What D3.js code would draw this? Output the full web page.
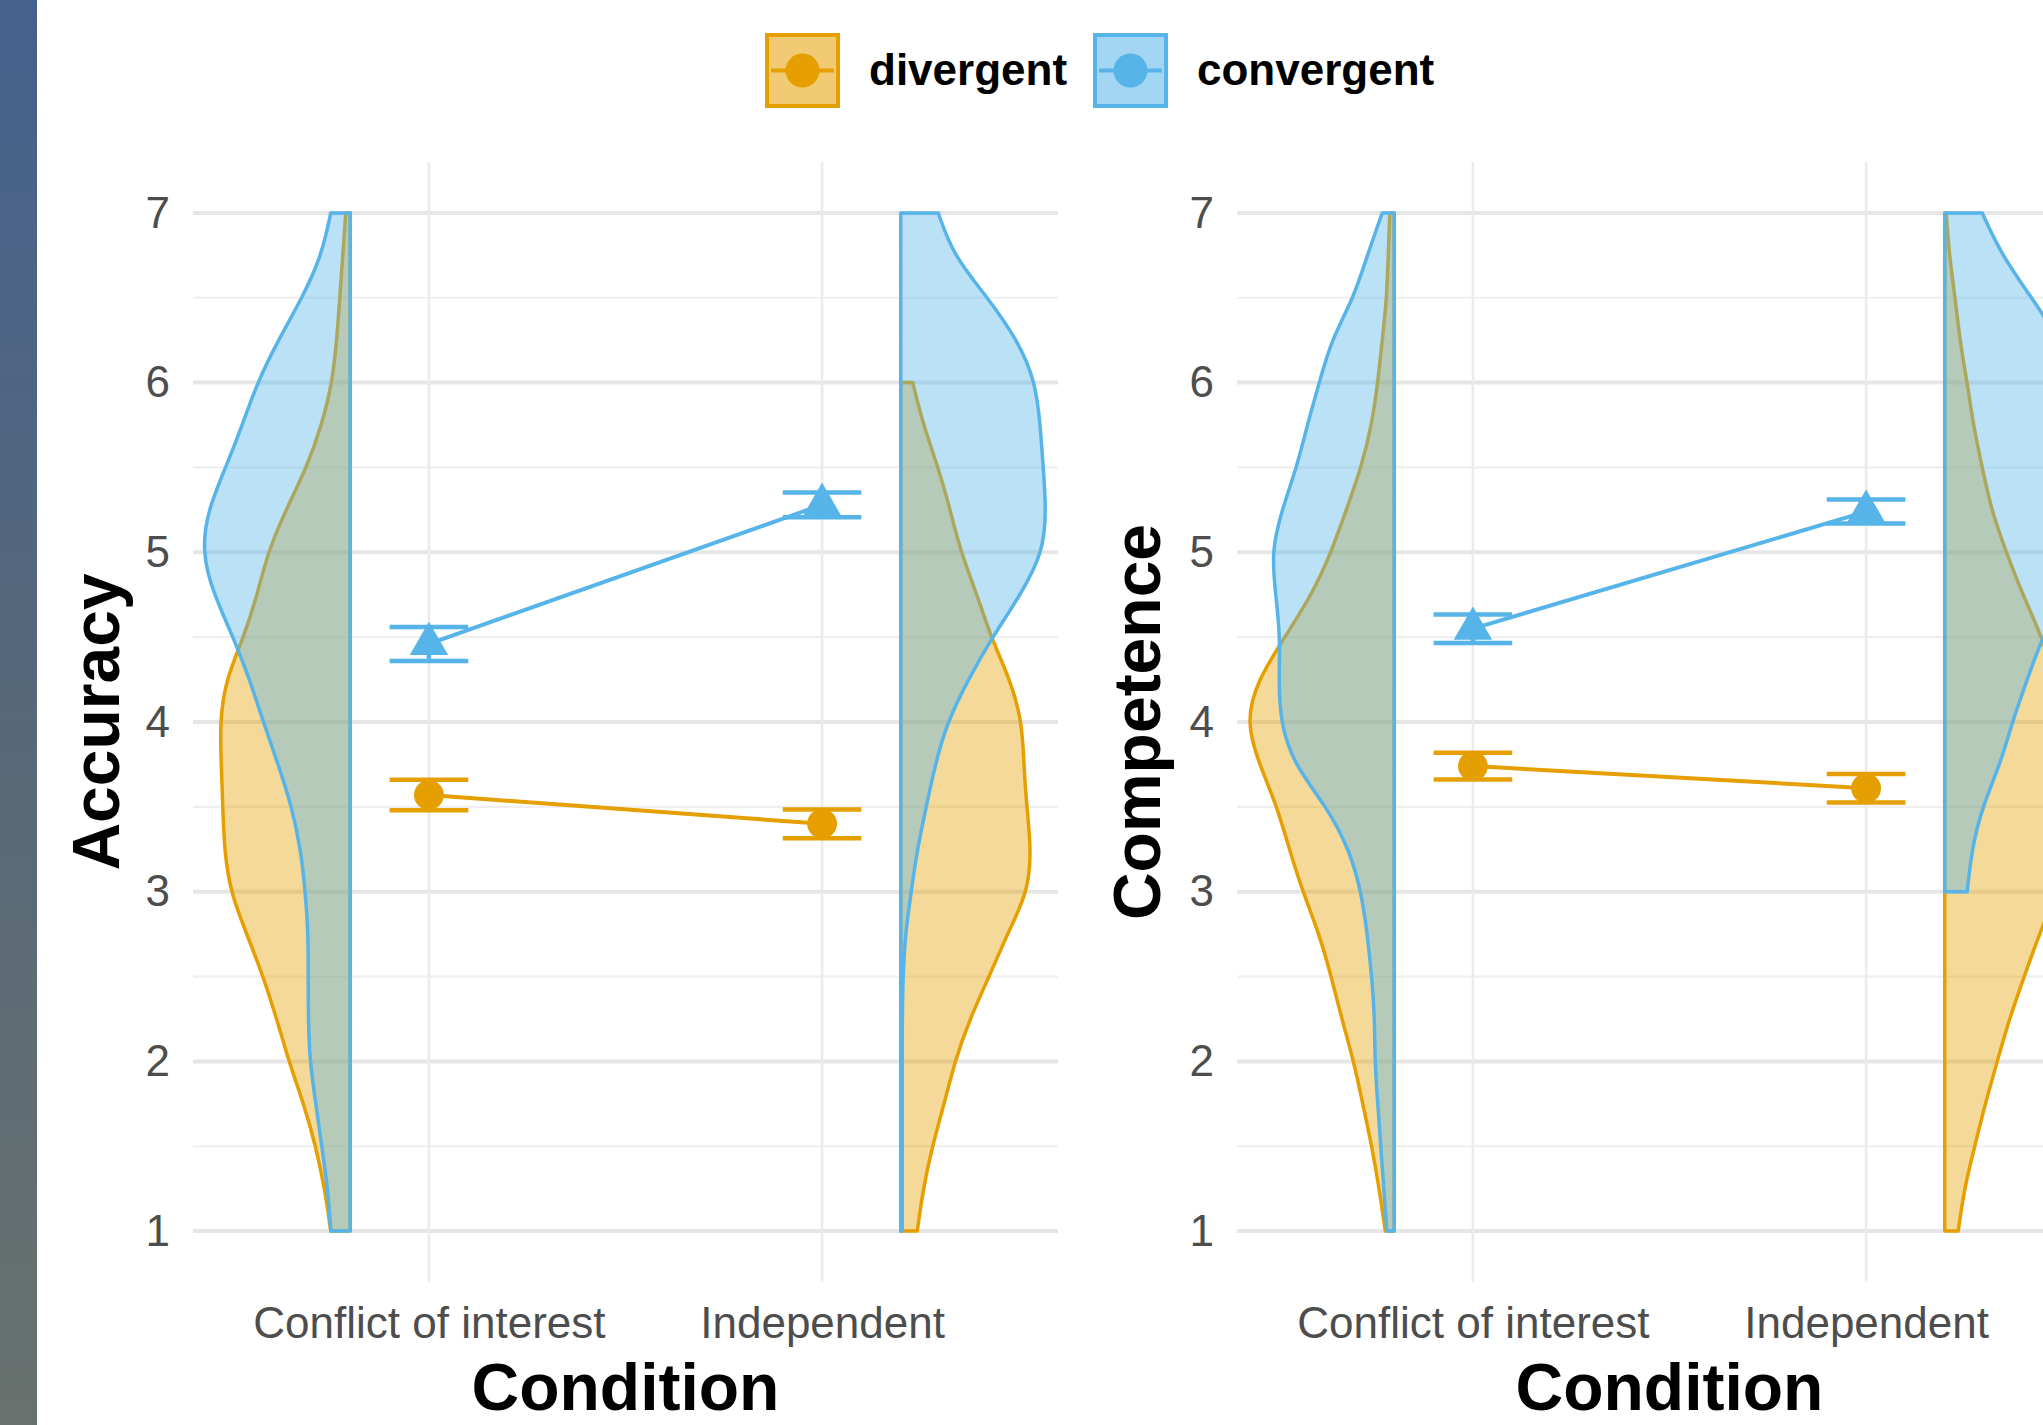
<!DOCTYPE html>
<html>
<head>
<meta charset="utf-8">
<script src="https://cdn.jsdelivr.net/npm/d3@7"></script>
<style>
  body { margin: 0; background: #fff; }
  svg { display: block; font-family: "Liberation Sans", Arial, Helvetica, sans-serif; }
</style>
</head>
<body>
<script>
// categories and groups
const conditions = ["Conflict of interest", "Independent"];
const groups = ["divergent", "convergent"];
const groupColors = ["#E69F00", "#56B4E9"];
const yTicks = [1, 2, 3, 4, 5, 6, 7];
const yMinor = [1.5, 2.5, 3.5, 4.5, 5.5, 6.5];

// means and standard errors (per condition)
const accDivMean = [3.57, 3.40];
const accDivSE = [0.090, 0.085];
const accConvMean = [4.46, 5.28];
const accConvSE = [0.100, 0.073];
const compDivMean = [3.74, 3.61];
const compDivSE = [0.079, 0.084];
const compConvMean = [4.55, 5.24];
const compConvSE = [0.084, 0.071];

// rating levels at which the violin densities were read (top to bottom)
const levels = [7, 6.75, 6.5, 6.25, 6, 5.75, 5.5, 5.25, 5, 4.75, 4.5, 4.25, 4,
                3.75, 3.5, 3.25, 3, 2.75, 2.5, 2.25, 2, 1.75, 1.5, 1.25, 1];

// relative densities, null = outside the data range
const accDivCoi = [0.03,0.05,0.07,0.09,0.12,0.19,0.29,0.43,0.55,0.62,0.71,0.83,0.87,0.86,0.85,0.84,0.80,0.69,0.58,0.49,0.41,0.31,0.23,0.17,0.13];
const accConvCoi = [0.13,0.19,0.32,0.48,0.62,0.72,0.83,0.95,0.99,0.91,0.78,0.67,0.58,0.48,0.39,0.33,0.30,0.28,0.28,0.28,0.27,0.23,0.19,0.15,0.13];
const accDivInd = [null,null,null,null,0.08,0.15,0.25,0.33,0.40,0.51,0.60,0.73,0.81,0.82,0.84,0.87,0.85,0.71,0.59,0.46,0.36,0.29,0.21,0.15,0.11];
const accConvInd = [0.25,0.35,0.58,0.78,0.90,0.93,0.95,0.97,0.95,0.80,0.61,0.45,0.31,0.23,0.17,0.11,0.07,0.03,0.015,0.01,0.01,0.01,0.01,0.01,0.01];
const compDivCoi = [0.03,0.04,0.05,0.08,0.11,0.15,0.22,0.32,0.42,0.55,0.73,0.91,0.99,0.90,0.78,0.70,0.61,0.50,0.42,0.35,0.27,0.21,0.15,0.10,0.06];
const compConvCoi = [0.08,0.18,0.27,0.42,0.50,0.58,0.65,0.75,0.82,0.79,0.76,0.77,0.76,0.67,0.45,0.30,0.22,0.18,0.15,0.13,0.13,0.11,0.09,0.07,0.05];
const compDivInd = [0.01,0.03,0.07,0.10,0.15,0.19,0.25,0.31,0.41,0.52,0.65,0.73,0.81,0.85,0.87,0.83,0.75,0.63,0.53,0.43,0.35,0.27,0.20,0.13,0.09];
const compConvInd = [0.25,0.38,0.58,0.77,0.87,0.92,0.95,0.96,0.93,0.80,0.65,0.55,0.45,0.37,0.25,0.18,0.15,null,null,null,null,null,null,null,null];

const width = 2043;
const height = 1425;

const svg = d3.select("body").append("svg")
    .attr("width", width)
    .attr("height", height);

// dark strip on the left edge
const grad = svg.append("defs").append("linearGradient")
    .attr("id", "strip")
    .attr("x1", 0).attr("y1", 0).attr("x2", 0).attr("y2", 1);
grad.append("stop").attr("offset", "0%").attr("stop-color", "#45618d");
grad.append("stop").attr("offset", "50%").attr("stop-color", "#566879");
grad.append("stop").attr("offset", "100%").attr("stop-color", "#68716d");
svg.append("rect")
    .attr("x", 0).attr("y", 0)
    .attr("width", 37).attr("height", height)
    .attr("fill", "url(#strip)");

const panels = [
    { title: "Accuracy", left: 193, titleX: 119,
      means: [accDivMean, accConvMean], ses: [accDivSE, accConvSE],
      dens: [[accDivCoi, accDivInd], [accConvCoi, accConvInd]] },
    { title: "Competence", left: 1237, titleX: 1160,
      means: [compDivMean, compConvMean], ses: [compDivSE, compConvSE],
      dens: [[compDivCoi, compDivInd], [compConvCoi, compConvInd]] }
];

const panelWidth = 865;
const violinScale = 0.3815;   // relative density -> x units
const violinPos = [0.8, 2.2];
const violinSide = [-1, 1];

const y = d3.scaleLinear().domain([0.7, 7.3]).range([1282, 162]);

function drawPanel(p) {
    const x = d3.scaleLinear().domain([0.4, 2.6]).range([p.left, p.left + panelWidth]);
    const g = svg.append("g");

    // grid
    g.append("g").selectAll("line")
        .data(yMinor)
        .join("line")
        .attr("x1", x(0.4)).attr("x2", x(2.6))
        .attr("y1", d => y(d)).attr("y2", d => y(d))
        .attr("stroke", "#efefef")
        .attr("stroke-width", 2.2);

    g.append("g").selectAll("line")
        .data(yTicks)
        .join("line")
        .attr("x1", x(0.4)).attr("x2", x(2.6))
        .attr("y1", d => y(d)).attr("y2", d => y(d))
        .attr("stroke", "#e6e6e6")
        .attr("stroke-width", 4);

    g.append("g").selectAll("line")
        .data([1, 2])
        .join("line")
        .attr("x1", d => x(d)).attr("x2", d => x(d))
        .attr("y1", y(7.3)).attr("y2", y(0.7))
        .attr("stroke", "#ebebeb")
        .attr("stroke-width", 2.5);

    // half violins, divergent first so convergent sits on top
    groups.forEach((grp, gi) => {
        conditions.forEach((cond, ci) => {
            const pts = levels
                .map((v, i) => ({ v: v, d: p.dens[gi][ci][i] }))
                .filter(d => d.d !== null);
            const pos = violinPos[ci];
            const side = violinSide[ci];
            const area = d3.area()
                .y(d => y(d.v))
                .x0(x(pos))
                .x1(d => x(pos + side * d.d * violinScale))
                .curve(d3.curveBasis);
            g.append("path")
                .datum(pts)
                .attr("d", area)
                .attr("fill", groupColors[gi])
                .attr("fill-opacity", 0.4)
                .attr("stroke", groupColors[gi])
                .attr("stroke-width", 3.5)
                .attr("stroke-linejoin", "round");
        });
    });

    // mean lines, error bars and points
    groups.forEach((grp, gi) => {
        const means = p.means[gi];
        const ses = p.ses[gi];
        const pts = means.map((m, i) => ({ c: i + 1, m: m, se: ses[i] }));

        g.append("path")
            .datum(pts)
            .attr("d", d3.line().x(d => x(d.c)).y(d => y(d.m)))
            .attr("fill", "none")
            .attr("stroke", groupColors[gi])
            .attr("stroke-width", 4);

        const eb = g.append("g").selectAll("g")
            .data(pts)
            .join("g")
            .attr("stroke", groupColors[gi])
            .attr("stroke-width", 4.5);
        eb.append("line")
            .attr("x1", d => x(d.c)).attr("x2", d => x(d.c))
            .attr("y1", d => y(d.m - d.se)).attr("y2", d => y(d.m + d.se));
        eb.append("line")
            .attr("x1", d => x(d.c - 0.1)).attr("x2", d => x(d.c + 0.1))
            .attr("y1", d => y(d.m - d.se)).attr("y2", d => y(d.m - d.se));
        eb.append("line")
            .attr("x1", d => x(d.c - 0.1)).attr("x2", d => x(d.c + 0.1))
            .attr("y1", d => y(d.m + d.se)).attr("y2", d => y(d.m + d.se));

        const sym = d3.symbol()
            .type(gi === 0 ? d3.symbolCircle : d3.symbolTriangle)
            .size(gi === 0 ? 700 : 640);
        g.append("g").selectAll("path")
            .data(pts)
            .join("path")
            .attr("transform", d => `translate(${x(d.c)},${y(d.m)})`)
            .attr("d", sym)
            .attr("fill", groupColors[gi]);
    });

    // axes
    const yAxis = g.append("g")
        .attr("transform", `translate(${p.left},0)`)
        .call(d3.axisLeft(y).tickValues(yTicks).tickFormat(d3.format("d")).tickSize(0).tickPadding(23));
    yAxis.select(".domain").remove();
    yAxis.selectAll("text")
        .attr("font-size", 44)
        .attr("font-family", "'Liberation Sans', Arial, sans-serif")
        .attr("fill", "#4d4d4d");

    const xAxis = g.append("g")
        .attr("transform", `translate(0,${y(0.7)})`)
        .call(d3.axisBottom(x).tickValues([1, 2]).tickFormat(d => conditions[d - 1]).tickSize(0).tickPadding(25));
    xAxis.select(".domain").remove();
    xAxis.selectAll("text")
        .attr("font-size", 44)
        .attr("font-family", "'Liberation Sans', Arial, sans-serif")
        .attr("fill", "#4d4d4d");

    g.append("text")
        .attr("x", p.left + panelWidth / 2)
        .attr("y", 1410)
        .attr("text-anchor", "middle")
        .attr("font-size", 66)
        .attr("font-weight", "bold")
        .text("Condition");

    g.append("text")
        .attr("transform", `translate(${p.titleX},${(y(7.3) + y(0.7)) / 2}) rotate(-90)`)
        .attr("text-anchor", "middle")
        .attr("font-size", 66)
        .attr("font-weight", "bold")
        .text(p.title);
}

panels.forEach(drawPanel);

// legend
const legendX = [765, 1093];
const legend = svg.append("g").selectAll("g")
    .data(groups)
    .join("g")
    .attr("transform", (d, i) => `translate(${legendX[i]},33)`);
legend.append("rect")
    .attr("x", 2).attr("y", 2)
    .attr("width", 71).attr("height", 71)
    .attr("fill", (d, i) => groupColors[i])
    .attr("fill-opacity", 0.55)
    .attr("stroke", (d, i) => groupColors[i])
    .attr("stroke-width", 4);
legend.append("line")
    .attr("x1", 6).attr("x2", 69)
    .attr("y1", 37.5).attr("y2", 37.5)
    .attr("stroke", (d, i) => groupColors[i])
    .attr("stroke-width", 4);
legend.append("circle")
    .attr("cx", 37.5).attr("cy", 37.5)
    .attr("r", 17)
    .attr("fill", (d, i) => groupColors[i]);
legend.append("text")
    .attr("x", 104)
    .attr("y", 52)
    .attr("font-size", 44)
    .attr("font-weight", "bold")
    .text(d => d);
</script>
</body>
</html>
